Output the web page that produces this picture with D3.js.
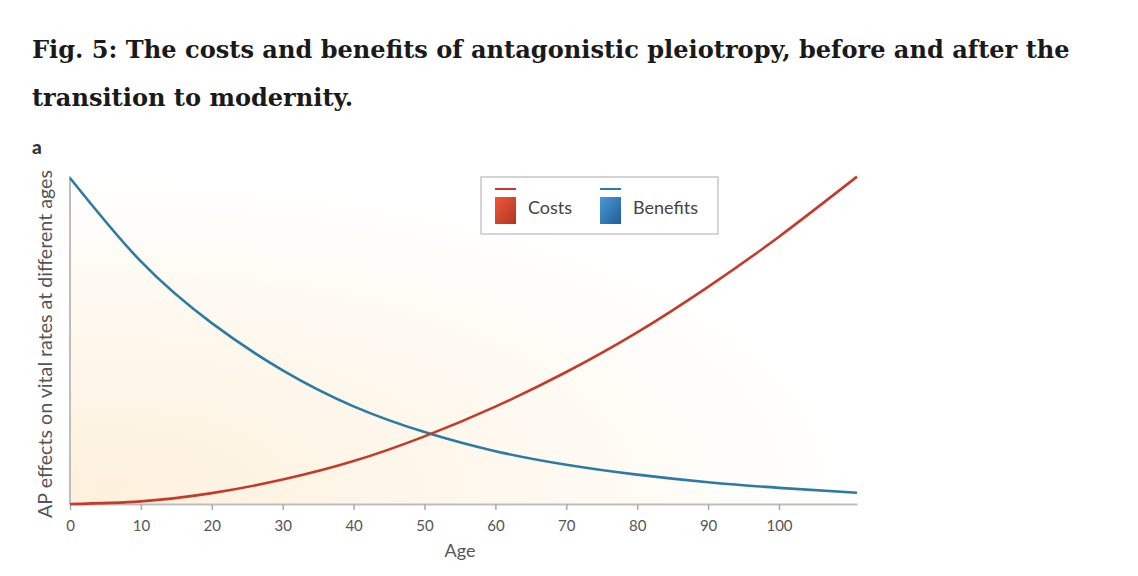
<!DOCTYPE html>
<html>
<head>
<meta charset="utf-8">
<script src="https://cdn.jsdelivr.net/npm/d3@7"></script>
<style>
  html, body { margin: 0; padding: 0; background: #fff; }
  svg { display: block; }
</style>
</head>
<body>
<svg id="chart" width="1138" height="576"></svg>
<script>
// ---- data ----
const ages = [0, 10, 20, 30, 40, 50, 60, 70, 80, 90, 100, 111];
const benefits = [98.8, 73.5, 54.8, 40.5, 29.6, 21.8, 16.0, 11.9, 8.9, 6.6, 4.9, 3.4];
const costs = [0, 0.8, 3.3, 7.4, 13.0, 20.5, 29.5, 40.0, 52.0, 65.8, 81.0, 99.2];
const xTicks = [0, 10, 20, 30, 40, 50, 60, 70, 80, 90, 100];
const seriesNames = ["Costs", "Benefits"];
const titleLines = [
  "Fig. 5: The costs and benefits of antagonistic pleiotropy, before and after the",
  "transition to modernity."
];
const panelLabel = "a";
const xLabel = "Age";
const yLabel = "AP effects on vital rates at different ages";

// ---- layout ----
const svg = d3.select("#chart");
const pL = 70, pR = 857, pT = 174, pB = 504;
const x = d3.scaleLinear().domain([0, 111]).range([pL, pR]);
const y = d3.scaleLinear().domain([0, 100]).range([pB, pT]);
const colors = { Costs: "#c33b2b", Benefits: "#2c7ba3" };

const defs = svg.append("defs");
const bg = defs.append("radialGradient").attr("id", "bg")
  .attr("cx", "0.05").attr("cy", "0.95").attr("r", "1.0");
bg.append("stop").attr("offset", "0").attr("stop-color", "#fdf1dd");
bg.append("stop").attr("offset", "0.5").attr("stop-color", "#fef8ee");
bg.append("stop").attr("offset", "0.95").attr("stop-color", "#ffffff");

const gRed = defs.append("linearGradient").attr("id", "gRed").attr("x1", 0).attr("x2", 1).attr("y1", 0).attr("y2", 1);
gRed.append("stop").attr("offset", 0).attr("stop-color", "#ec5a38");
gRed.append("stop").attr("offset", 1).attr("stop-color", "#b43420");
const gBlue = defs.append("linearGradient").attr("id", "gBlue").attr("x1", 0).attr("x2", 1).attr("y1", 0).attr("y2", 1);
gBlue.append("stop").attr("offset", 0).attr("stop-color", "#4a98d8");
gBlue.append("stop").attr("offset", 1).attr("stop-color", "#1f5f96");

// title
const title = svg.append("g");
titleLines.forEach((t, i) => {
  title.append("text")
    .attr("x", 32).attr("y", 58 + i * 48)
    .attr("font-family", "DejaVu Serif, serif")
    .attr("font-weight", "bold")
    .attr("font-size", 22)
    .attr("fill", "#1a1a1a")
    .text(t);
});
const t0 = title.select("text").node();
const w0 = t0.getComputedTextLength();
const fs = 22 * 1038 / w0;
title.selectAll("text").attr("font-size", fs);

// background
svg.append("rect").attr("x", pL).attr("y", pT + 2)
  .attr("width", pR - pL).attr("height", pB - pT - 2)
  .attr("fill", "url(#bg)");

// axes
svg.append("line").attr("x1", pL).attr("x2", pL).attr("y1", pT + 2).attr("y2", pB)
  .attr("stroke", "#bdbdbd").attr("stroke-width", 2);
const xAxis = d3.axisBottom(x).tickValues(xTicks).tickSize(6).tickSizeOuter(0).tickPadding(10);
const gx = svg.append("g").attr("transform", `translate(0,${pB})`).call(xAxis);
gx.select(".domain").attr("stroke", "#bdbdbd").attr("stroke-width", 2);
gx.selectAll(".tick line").attr("stroke", "#aaaaaa").attr("stroke-width", 1.5);
gx.selectAll(".tick text").attr("font-family", "Lato, sans-serif").attr("font-size", 15).attr("fill", "#555");

// axis labels
svg.append("text").attr("x", 460).attr("y", 557).attr("text-anchor", "middle")
  .attr("font-family", "Lato, sans-serif").attr("font-size", 18).attr("fill", "#555").text(xLabel);
const yl = svg.append("text").attr("transform", "translate(52,344) rotate(-90)")
  .attr("text-anchor", "middle")
  .attr("font-family", "Lato, sans-serif").attr("font-size", 16).attr("fill", "#555").text(yLabel);
const ylw = yl.node().getComputedTextLength();
yl.attr("font-size", 16 * 348 / ylw);

svg.append("text").attr("x", 32).attr("y", 154)
  .attr("font-family", "Lato, sans-serif").attr("font-weight", "900").attr("font-size", 19)
  .attr("fill", "#333").text(panelLabel);

// lines
const line = d3.line().x((d, i) => x(ages[i])).y(d => y(d)).curve(d3.curveNatural);
svg.append("path").datum(benefits).attr("d", line).attr("fill", "none")
  .attr("stroke", colors.Benefits).attr("stroke-width", 2.6);
svg.append("path").datum(costs).attr("d", line).attr("fill", "none")
  .attr("stroke", colors.Costs).attr("stroke-width", 2.6);

// legend
const lg = svg.append("g");
lg.append("rect").attr("x", 481).attr("y", 177).attr("width", 237).attr("height", 57)
  .attr("fill", "#fff").attr("stroke", "#c8c8c8").attr("stroke-width", 1.5);
const legendX = [495, 600];
seriesNames.forEach((n, i) => {
  const lx = legendX[i];
  lg.append("line").attr("x1", lx).attr("x2", lx + 21).attr("y1", 189).attr("y2", 189)
    .attr("stroke", colors[n]).attr("stroke-width", 2);
  lg.append("rect").attr("x", lx).attr("y", 197).attr("width", 21).attr("height", 27)
    .attr("fill", i === 0 ? "url(#gRed)" : "url(#gBlue)");
  lg.append("text").attr("x", lx + 33).attr("y", 214)
    .attr("font-family", "Lato, sans-serif").attr("font-size", 18).attr("fill", "#444").text(n);
});
</script>
</body>
</html>
